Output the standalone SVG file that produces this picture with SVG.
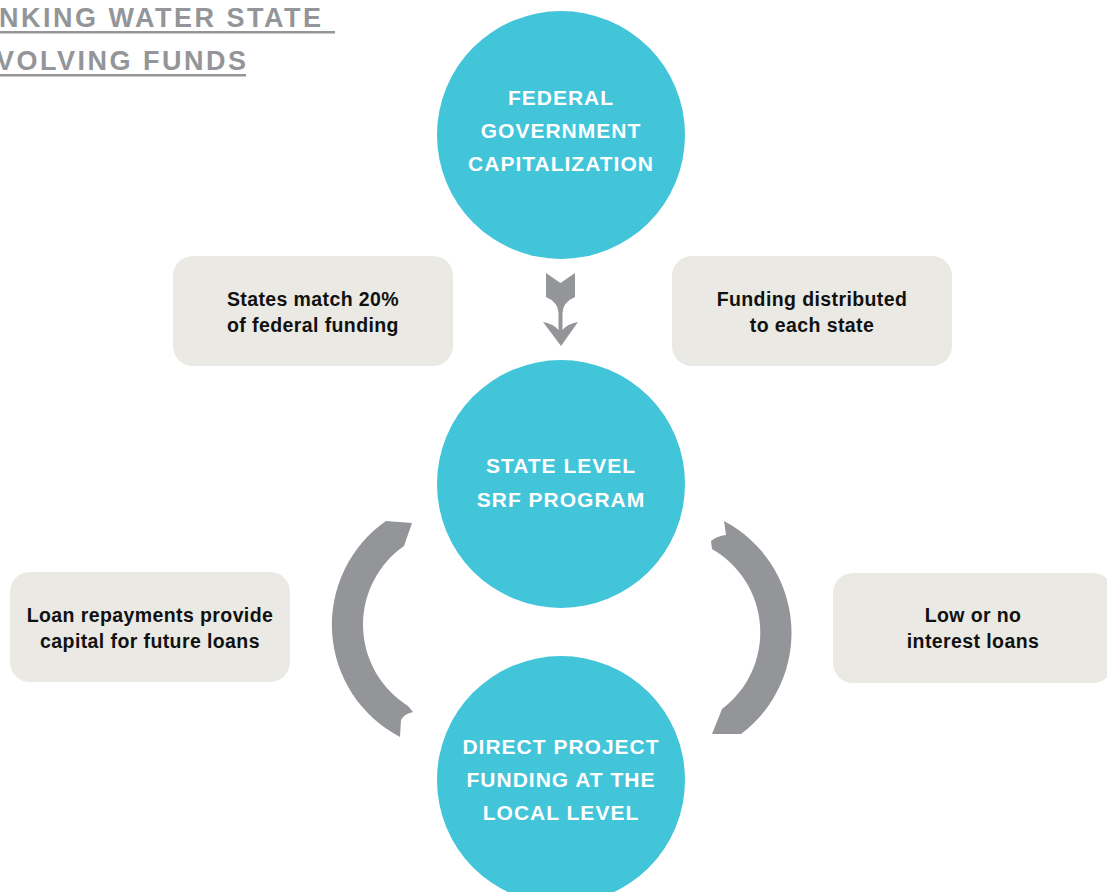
<svg xmlns="http://www.w3.org/2000/svg" width="1107" height="892" viewBox="0 0 1107 892">
<style>
.title{font-family:"Liberation Sans",Arial,sans-serif;font-weight:bold;font-size:27px;letter-spacing:2.5px;fill:#939598}
.circ{fill:#42c4d9}
.ctext{font-family:"Liberation Sans",Arial,sans-serif;font-weight:bold;font-size:21px;letter-spacing:1px;fill:#ffffff;text-anchor:middle}
.box{fill:#eae9e3}
.btext{font-family:"Liberation Sans",Arial,sans-serif;font-weight:bold;font-size:19.5px;letter-spacing:0.4px;fill:#111111;text-anchor:middle}
.arrow{fill:#939598}
</style>
<rect width="1107" height="892" fill="#ffffff"/>
<g id="title">
<text class="title" x="-1" y="27">NKING WATER STATE</text>
<rect x="0" y="31" width="335" height="2.5" fill="#939598"/>
<text class="title" x="-4" y="70">VOLVING FUNDS</text>
<rect x="0" y="74" width="246" height="2.5" fill="#939598"/>
</g>
<g id="connectors">
<path class="arrow" d="M 546 273 L 560.5 283 L 575 273 L 575 297 Q 563 302 562.5 313 L 562.5 330 Q 567 324 578 322 L 561 346 L 543 322 Q 554 324 558.5 330 L 558.5 313 Q 558 302 546 297 Z"/>
<path class="arrow" d="M 386 521 L 412 523 L 404 546 A 96 96 0 0 0 408 706 L 413 712 Q 404 714 401 720 L 400 737 A 126.5 126.5 0 0 1 386 521 Z"/>
<path class="arrow" d="M 724 521 A 126.5 126.5 0 0 1 741 734 L 712 734 L 722 709 A 96 96 0 0 0 712 549 L 711 541 Q 717 536 726 535 Z"/>
</g>
<g id="node-federal">
<circle class="circ" cx="561" cy="135" r="124"/>
<text class="ctext" x="561" y="105">FEDERAL</text>
<text class="ctext" x="561" y="138">GOVERNMENT</text>
<text class="ctext" x="561" y="171">CAPITALIZATION</text>
</g>
<g id="node-state">
<circle class="circ" cx="561" cy="484" r="124"/>
<text class="ctext" x="561" y="473">STATE LEVEL</text>
<text class="ctext" x="561" y="507">SRF PROGRAM</text>
</g>
<g id="node-local">
<circle class="circ" cx="561" cy="780" r="124"/>
<text class="ctext" x="561" y="754">DIRECT PROJECT</text>
<text class="ctext" x="561" y="787">FUNDING AT THE</text>
<text class="ctext" x="561" y="820">LOCAL LEVEL</text>
</g>
<g id="box-match">
<rect class="box" x="173" y="256" width="280" height="110" rx="20"/>
<text class="btext" x="313" y="306">States match 20%</text>
<text class="btext" x="313" y="332">of federal funding</text>
</g>
<g id="box-distributed">
<rect class="box" x="672" y="256" width="280" height="110" rx="20"/>
<text class="btext" x="812" y="306">Funding distributed</text>
<text class="btext" x="812" y="332">to each state</text>
</g>
<g id="box-repayments">
<rect class="box" x="10" y="572" width="280" height="110" rx="20"/>
<text class="btext" x="150" y="622">Loan repayments provide</text>
<text class="btext" x="150" y="648">capital for future loans</text>
</g>
<g id="box-loans">
<rect class="box" x="833" y="573" width="280" height="110" rx="20"/>
<text class="btext" x="973" y="622">Low or no</text>
<text class="btext" x="973" y="648">interest loans</text>
</g>
</svg>
